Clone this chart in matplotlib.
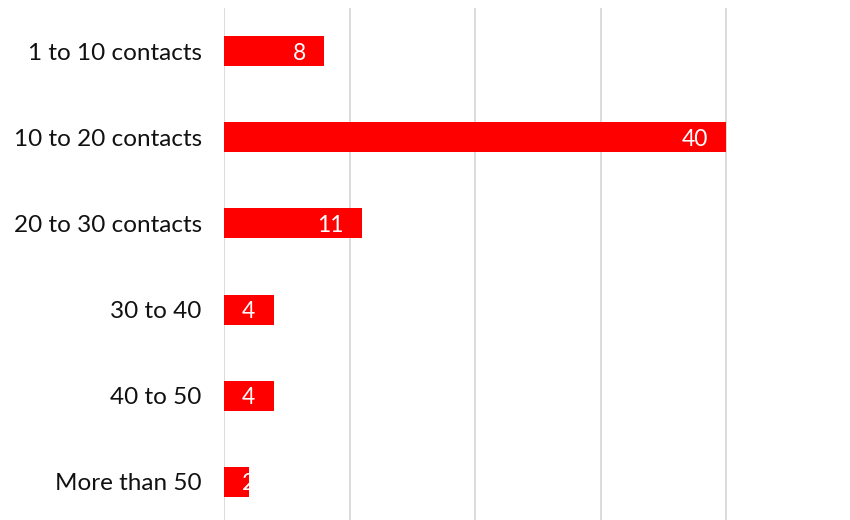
import matplotlib
matplotlib.use("Agg")
from matplotlib import pyplot as plt

plt.rcParams['font.family'] = ['Lato', 'DejaVu Sans']

categories = ["1 to 10 contacts", "10 to 20 contacts", "20 to 30 contacts",
              "30 to 40", "40 to 50", "More than 50"]
counts = [8, 40, 11, 4, 4, 2]

fig = plt.figure(figsize=(8.5, 5.2), dpi=100)
# axes spans from the first gridline to the right edge, bottom runs slightly off the canvas
ax = fig.add_axes([224 / 850, -5 / 520, 627.5 / 850, 517 / 520])

y = list(range(len(categories)))
bars = ax.barh(y, counts, height=0.35, color="#ff0000", zorder=2)

ax.set_xlim(0, 50)
ax.set_ylim(len(categories) - 0.5, -0.5)

ax.set_yticks(y)
ax.set_yticklabels(categories, fontsize=17.5, color="#111111")
ax.tick_params(axis="y", length=0, pad=16)
ax.set_xticks([0, 10, 20, 30, 40])
ax.tick_params(axis="x", length=0, labelbottom=False)
ax.grid(axis="x", color="#d9d9d9", linewidth=1.3, zorder=0)
for side in ax.spines.values():
    side.set_visible(False)

# white value labels: right-aligned inside long bars, pinned to the start of short ones
px_per_unit = ax.get_position().width * fig.get_figwidth() * fig.dpi / 50
for bar, n in zip(bars, counts):
    yc = bar.get_y() + bar.get_height() / 2
    if n * px_per_unit < 60:
        xy, dx, ha = (0, yc), 18, "left"
    else:
        xy, dx, ha = (n, yc), -18, "right"
    t = ax.annotate(str(n), xy, xytext=(dx, -2), textcoords="offset pixels",
                    ha=ha, va="center", color="white", fontsize=16.5, zorder=3)
    t.set_clip_path(bar)

fig.savefig("out.png", dpi=100)
